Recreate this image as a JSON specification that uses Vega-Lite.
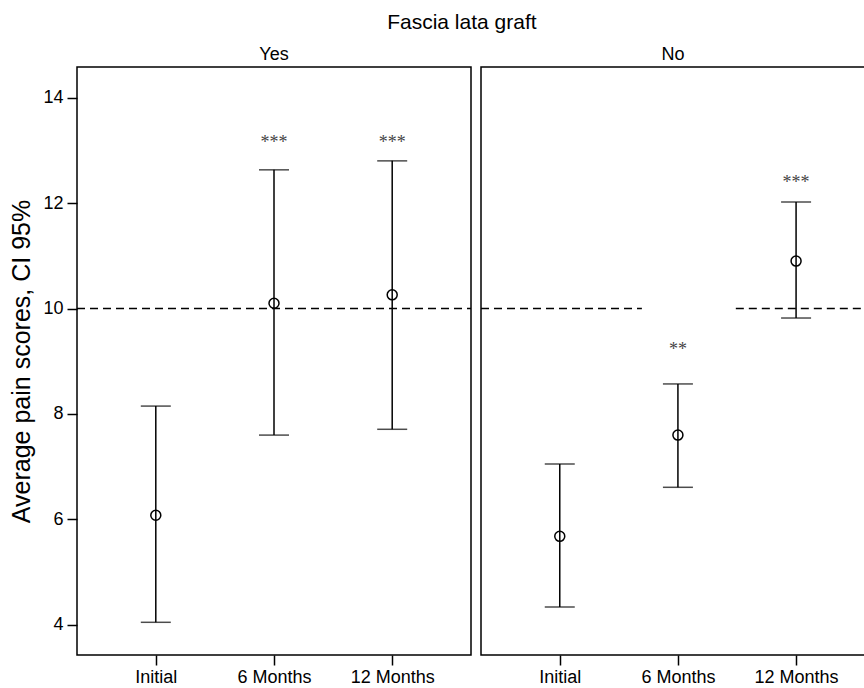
{
  "$schema": "https://vega.github.io/schema/vega-lite/v6.json",
  "padding": {"left": 9, "top": 12, "right": 0, "bottom": 0},
  "spacing": 6,
  "title": {"text": "Fascia lata graft", "fontSize": 21, "fontWeight": "normal", "color": "black", "anchor": "middle", "dx": 24, "offset": 12},
  "datasets": {
    "scores": [
      {"graft": "Yes", "visit": "Initial", "months": 0, "mean": 6.08, "lower": 4.05, "upper": 8.15, "sig": "", "sig_y": null},
      {"graft": "Yes", "visit": "6 Months", "months": 6, "mean": 10.10, "lower": 7.60, "upper": 12.63, "sig": "***", "sig_y": 13.22},
      {"graft": "Yes", "visit": "12 Months", "months": 12, "mean": 10.26, "lower": 7.71, "upper": 12.80, "sig": "***", "sig_y": 13.22},
      {"graft": "No", "visit": "Initial", "months": 0, "mean": 5.68, "lower": 4.34, "upper": 7.05, "sig": "", "sig_y": null},
      {"graft": "No", "visit": "6 Months", "months": 6, "mean": 7.60, "lower": 6.61, "upper": 8.57, "sig": "**", "sig_y": 9.29},
      {"graft": "No", "visit": "12 Months", "months": 12, "mean": 10.90, "lower": 9.82, "upper": 12.02, "sig": "***", "sig_y": 12.46}
    ],
    "ref": [
      {"graft": "Yes", "from": -4, "to": 16, "value": 10},
      {"graft": "No", "from": -4, "to": 4.17, "value": 10},
      {"graft": "No", "from": 8.94, "to": 15.5, "value": 10}
    ]
  },
  "hconcat": [
    {
      "width": 394,
      "height": 588,
      "title": {"text": "Yes", "fontSize": 18, "fontWeight": "normal", "color": "black", "offset": 3},
      "layer": [
        {
          "data": {"name": "ref"},
          "transform": [{"filter": "datum.graft == 'Yes'"}],
          "mark": {"type": "rule", "strokeDash": [8, 5], "strokeWidth": 1.5, "color": "black"},
          "encoding": {
            "x": {"field": "from", "type": "quantitative", "title": null, "scale": {"domain": [-4, 16], "nice": false, "zero": false},
                  "axis": {"values": [0, 6, 12], "labelExpr": "datum.value == 0 ? 'Initial' : datum.value + ' Months'"}},
            "x2": {"field": "to"},
            "y": {"field": "value", "type": "quantitative", "title": "Average pain scores, CI 95%", "scale": {"domain": [3.43, 14.58], "nice": false, "zero": false},
                  "axis": {"values": [4, 6, 8, 10, 12, 14]}}
          }
        },
        {
          "data": {"name": "scores"},
          "transform": [{"filter": "datum.graft == 'Yes'"}],
          "mark": {"type": "errorbar", "ticks": true, "size": 30, "thickness": 1.5, "color": "black"},
          "encoding": {
            "x": {"field": "months", "type": "quantitative", "title": null},
            "y": {"field": "lower", "type": "quantitative", "title": "Average pain scores, CI 95%"},
            "y2": {"field": "upper"}
          }
        },
        {
          "data": {"name": "scores"},
          "transform": [{"filter": "datum.graft == 'Yes'"}],
          "mark": {"type": "point", "shape": "circle", "filled": false, "size": 100, "strokeWidth": 1.5, "color": "black", "opacity": 1},
          "encoding": {
            "x": {"field": "months", "type": "quantitative", "title": null},
            "y": {"field": "mean", "type": "quantitative", "title": "Average pain scores, CI 95%"}
          }
        },
        {
          "data": {"name": "scores"},
          "transform": [{"filter": "datum.graft == 'Yes' && datum.sig != ''"}],
          "mark": {"type": "text", "font": "Liberation Serif", "fontSize": 18, "fill": "#444444", "baseline": "middle", "dy": 4},
          "encoding": {
            "x": {"field": "months", "type": "quantitative", "title": null},
            "y": {"field": "sig_y", "type": "quantitative", "title": "Average pain scores, CI 95%"},
            "text": {"field": "sig"}
          }
        }
      ]
    },
    {
      "width": 384,
      "height": 588,
      "title": {"text": "No", "fontSize": 18, "fontWeight": "normal", "color": "black", "offset": 3},
      "layer": [
        {
          "data": {"name": "ref"},
          "transform": [{"filter": "datum.graft == 'No'"}],
          "mark": {"type": "rule", "strokeDash": [8, 5], "strokeWidth": 1.5, "color": "black"},
          "encoding": {
            "x": {"field": "from", "type": "quantitative", "title": null, "scale": {"domain": [-4, 15.5], "nice": false, "zero": false},
                  "axis": {"values": [0, 6, 12], "labelExpr": "datum.value == 0 ? 'Initial' : datum.value + ' Months'"}},
            "x2": {"field": "to"},
            "y": {"field": "value", "type": "quantitative", "scale": {"domain": [3.43, 14.58], "nice": false, "zero": false}, "axis": null}
          }
        },
        {
          "data": {"name": "scores"},
          "transform": [{"filter": "datum.graft == 'No'"}],
          "mark": {"type": "errorbar", "ticks": true, "size": 30, "thickness": 1.5, "color": "black"},
          "encoding": {
            "x": {"field": "months", "type": "quantitative", "title": null},
            "y": {"field": "lower", "type": "quantitative", "axis": null},
            "y2": {"field": "upper"}
          }
        },
        {
          "data": {"name": "scores"},
          "transform": [{"filter": "datum.graft == 'No'"}],
          "mark": {"type": "point", "shape": "circle", "filled": false, "size": 100, "strokeWidth": 1.5, "color": "black", "opacity": 1},
          "encoding": {
            "x": {"field": "months", "type": "quantitative", "title": null},
            "y": {"field": "mean", "type": "quantitative", "axis": null}
          }
        },
        {
          "data": {"name": "scores"},
          "transform": [{"filter": "datum.graft == 'No' && datum.sig != ''"}],
          "mark": {"type": "text", "font": "Liberation Serif", "fontSize": 18, "fill": "#444444", "baseline": "middle", "dy": 4},
          "encoding": {
            "x": {"field": "months", "type": "quantitative", "title": null},
            "y": {"field": "sig_y", "type": "quantitative", "axis": null},
            "text": {"field": "sig"}
          }
        }
      ]
    }
  ],
  "config": {
    "font": "Liberation Sans",
    "view": {"stroke": "black", "strokeWidth": 1.5},
    "axis": {
      "grid": false, "domain": false,
      "tickColor": "black", "tickWidth": 1.5, "tickSize": 10,
      "labelColor": "black", "labelFontSize": 18, "labelFont": "Liberation Sans", "labelPadding": 4,
      "titleColor": "black", "titleFontSize": 25, "titleFontWeight": "normal", "titleFont": "Liberation Sans"
    },
    "axisY": {"titlePadding": 8},
    "axisX": {"labelPadding": 3}
  }
}
